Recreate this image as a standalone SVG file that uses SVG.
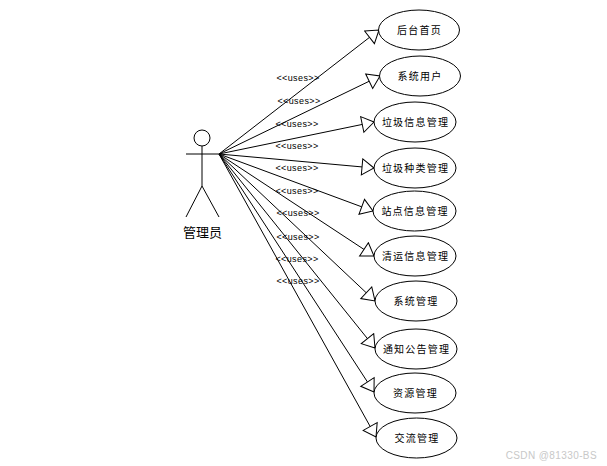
<svg xmlns="http://www.w3.org/2000/svg" width="607" height="466" viewBox="0 0 607 466">
<style>
.e{fill:#fff;stroke:#000;stroke-width:1}
.a{fill:none;stroke:#000;stroke-width:1}
.c{stroke:#000;stroke-width:1;fill:none;marker-end:url(#h)}
.t{font-family:"Noto Sans CJK SC","Liberation Sans",sans-serif;font-size:10px;letter-spacing:1.2px;text-anchor:middle;fill:#000}
.u{font-family:"Liberation Sans",sans-serif;font-size:9px;letter-spacing:.4px;text-anchor:middle;fill:#000}
.n{font-family:"Noto Sans CJK SC","Liberation Sans",sans-serif;font-size:13px;text-anchor:middle;fill:#000}
.w{font-family:"Liberation Sans",sans-serif;font-size:10px;letter-spacing:.4px;text-anchor:end;fill:#c8c8c8}
</style>
<defs>
<marker id="h" markerUnits="userSpaceOnUse" markerWidth="16" markerHeight="20" refX="13" refY="9" orient="auto">
<path d="M1,1L13,9L1,17Z" fill="#fff" stroke="#000" stroke-width="1"/>
</marker>
</defs>
<rect width="607" height="466" fill="#fff"/>
<g id="connectors">
<line class="c" x1="219" y1="154" x2="379" y2="30"/>
<line class="c" x1="219" y1="154" x2="380" y2="76"/>
<line class="c" x1="219" y1="154" x2="374" y2="122"/>
<line class="c" x1="219" y1="154" x2="374" y2="168"/>
<line class="c" x1="219" y1="154" x2="373" y2="211"/>
<line class="c" x1="219" y1="154" x2="374" y2="256"/>
<line class="c" x1="219" y1="154" x2="375" y2="301"/>
<line class="c" x1="219" y1="154" x2="375" y2="348"/>
<line class="c" x1="219" y1="154" x2="374" y2="392"/>
<line class="c" x1="219" y1="154" x2="376" y2="437"/>
<text class="u" x="298" y="80.500">&lt;&lt;uses&gt;&gt;</text>
<text class="u" x="299" y="103.500">&lt;&lt;uses&gt;&gt;</text>
<text class="u" x="297" y="126.500">&lt;&lt;uses&gt;&gt;</text>
<text class="u" x="297" y="148.500">&lt;&lt;uses&gt;&gt;</text>
<text class="u" x="297" y="170.500">&lt;&lt;uses&gt;&gt;</text>
<text class="u" x="297" y="193.500">&lt;&lt;uses&gt;&gt;</text>
<text class="u" x="298" y="215.500">&lt;&lt;uses&gt;&gt;</text>
<text class="u" x="298" y="239.500">&lt;&lt;uses&gt;&gt;</text>
<text class="u" x="297" y="261.500">&lt;&lt;uses&gt;&gt;</text>
<text class="u" x="298" y="283.500">&lt;&lt;uses&gt;&gt;</text>
</g>
<g id="actor">
<circle class="a" cx="202" cy="138" r="8"/>
<path class="a" d="M186,154H219M202,146V186L186,217M202,186L219,217"/>
<text class="n" x="202.500" y="236.500">管理员</text>
</g>
<g id="n1"><ellipse class="e" cx="419" cy="30" rx="40.500" ry="20"/><text class="t" x="419.500" y="34">后台首页</text></g>
<g id="n2"><ellipse class="e" cx="420" cy="76" rx="40.500" ry="20"/><text class="t" x="420" y="80">系统用户</text></g>
<g id="n3"><ellipse class="e" cx="415" cy="122" rx="41" ry="20"/><text class="t" x="415.500" y="126">垃圾信息管理</text></g>
<g id="n4"><ellipse class="e" cx="415" cy="168" rx="41" ry="20"/><text class="t" x="415.500" y="172">垃圾种类管理</text></g>
<g id="n5"><ellipse class="e" cx="414.500" cy="211" rx="41.500" ry="20"/><text class="t" x="415" y="215">站点信息管理</text></g>
<g id="n6"><ellipse class="e" cx="415" cy="256" rx="41" ry="20"/><text class="t" x="415.500" y="260">清运信息管理</text></g>
<g id="n7"><ellipse class="e" cx="416" cy="301" rx="41" ry="20"/><text class="t" x="416" y="305">系统管理</text></g>
<g id="n8"><ellipse class="e" cx="416" cy="349" rx="41" ry="20"/><text class="t" x="416.500" y="353">通知公告管理</text></g>
<g id="n9"><ellipse class="e" cx="415" cy="393" rx="41" ry="20"/><text class="t" x="415.500" y="397">资源管理</text></g>
<g id="n10"><ellipse class="e" cx="416.500" cy="438" rx="40.500" ry="20"/><text class="t" x="417" y="442">交流管理</text></g>
<text class="w" x="597" y="459">CSDN @81330-BS</text>
</svg>
